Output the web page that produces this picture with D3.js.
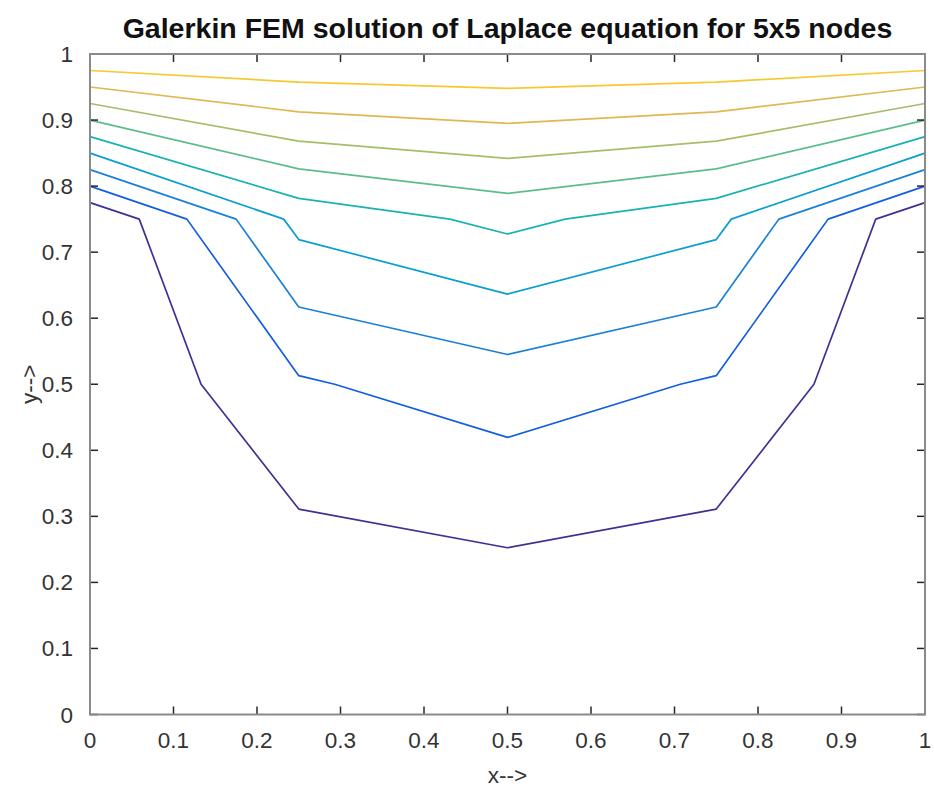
<!DOCTYPE html>
<html>

<head>
    <meta charset="utf-8">
    <style>
        body {
            margin: 0;
            background: white;
        }

        svg {
            display: block;
            font-family: "Liberation Sans", Arial, sans-serif;
        }

        .tick-label {
            font-size: 22.5px;
            fill: #333;
        }
    </style>
</head>

<body>
    <svg width="934" height="792"></svg>
</body>

<script src="https://d3js.org/d3.v7.min.js"></script>

<script>
    // contour levels and the points of each contour line
    let levels = [0.1, 0.2, 0.3, 0.4, 0.5, 0.6, 0.7, 0.8, 0.9]

    let level01 = [[0, 0.775], [0.059, 0.75], [0.133, 0.5], [0.25, 0.311], [0.5, 0.2525], [0.75, 0.311], [0.867, 0.5], [0.941, 0.75], [1, 0.775]]
    let level02 = [[0, 0.8], [0.116, 0.75], [0.25, 0.513], [0.293, 0.5], [0.5, 0.4195], [0.707, 0.5], [0.75, 0.513], [0.884, 0.75], [1, 0.8]]
    let level03 = [[0, 0.825], [0.175, 0.75], [0.25, 0.617], [0.5, 0.545], [0.75, 0.617], [0.825, 0.75], [1, 0.825]]
    let level04 = [[0, 0.85], [0.232, 0.75], [0.25, 0.719], [0.5, 0.6365], [0.75, 0.719], [0.768, 0.75], [1, 0.85]]
    let level05 = [[0, 0.875], [0.25, 0.7815], [0.431, 0.75], [0.5, 0.7275], [0.569, 0.75], [0.75, 0.7815], [1, 0.875]]
    let level06 = [[0, 0.9], [0.25, 0.826], [0.5, 0.789], [0.75, 0.826], [1, 0.9]]
    let level07 = [[0, 0.925], [0.25, 0.868], [0.5, 0.842], [0.75, 0.868], [1, 0.925]]
    let level08 = [[0, 0.95], [0.25, 0.9125], [0.5, 0.895], [0.75, 0.9125], [1, 0.95]]
    let level09 = [[0, 0.975], [0.25, 0.9575], [0.5, 0.948], [0.75, 0.9575], [1, 0.975]]

    let xTicks = [0, 0.1, 0.2, 0.3, 0.4, 0.5, 0.6, 0.7, 0.8, 0.9, 1]
    let yTicks = [0, 0.1, 0.2, 0.3, 0.4, 0.5, 0.6, 0.7, 0.8, 0.9, 1]

    // parula colours picked for each level
    let lineColors = ["#3b3391", "#135fe0", "#1a80d8", "#0b9ed0", "#19b2b2", "#5cbd8b", "#a6be6a", "#e0b853", "#f8c92e"]

    let contours = [level01, level02, level03, level04, level05, level06, level07, level08, level09]

    let svg = d3.select("svg")

    let plotLeft = 90, plotRight = 925, plotTop = 54, plotBottom = 714.5

    let x = d3.scaleLinear().domain([0, 1]).range([plotLeft, plotRight])
    let y = d3.scaleLinear().domain([0, 1]).range([plotBottom, plotTop])

    let line = d3.line()
        .x(d => x(d[0]))
        .y(d => y(d[1]))

    // contour lines
    svg.append("g")
        .selectAll("path")
        .data(contours)
        .join("path")
        .attr("d", line)
        .attr("fill", "none")
        .attr("stroke", (d, i) => lineColors[i])
        .attr("stroke-width", 1.7)
        .attr("stroke-linejoin", "round")

    // ticks pointing inwards on all four sides
    let tickLen = 8
    let ticks = svg.append("g")
        .attr("stroke", "#262626")
        .attr("stroke-width", 1.5)

    ticks.selectAll(".xb").data(xTicks).join("line")
        .attr("class", "xb")
        .attr("x1", d => x(d)).attr("x2", d => x(d))
        .attr("y1", plotBottom).attr("y2", plotBottom - tickLen)
    ticks.selectAll(".xt").data(xTicks).join("line")
        .attr("class", "xt")
        .attr("x1", d => x(d)).attr("x2", d => x(d))
        .attr("y1", plotTop).attr("y2", plotTop + tickLen)
    ticks.selectAll(".yl").data(yTicks).join("line")
        .attr("class", "yl")
        .attr("y1", d => y(d)).attr("y2", d => y(d))
        .attr("x1", plotLeft).attr("x2", plotLeft + tickLen)
    ticks.selectAll(".yr").data(yTicks).join("line")
        .attr("class", "yr")
        .attr("y1", d => y(d)).attr("y2", d => y(d))
        .attr("x1", plotRight).attr("x2", plotRight - tickLen)

    svg.append("rect")
        .attr("x", plotLeft)
        .attr("y", plotTop)
        .attr("width", plotRight - plotLeft)
        .attr("height", plotBottom - plotTop)
        .attr("fill", "none")
        .attr("stroke", "#8a8a8a")
        .attr("stroke-width", 2)

    // tick labels
    svg.append("g")
        .selectAll("text")
        .data(xTicks)
        .join("text")
        .attr("class", "tick-label")
        .attr("x", d => x(d))
        .attr("y", plotBottom + 33)
        .attr("text-anchor", "middle")
        .text(d => d3.format("~g")(d))

    svg.append("g")
        .selectAll("text")
        .data(yTicks)
        .join("text")
        .attr("class", "tick-label")
        .attr("x", plotLeft - 17)
        .attr("y", d => y(d) + 8)
        .attr("text-anchor", "end")
        .text(d => d3.format("~g")(d))

    // title and axis labels
    svg.append("text")
        .attr("x", (plotLeft + plotRight) / 2)
        .attr("y", 38)
        .attr("text-anchor", "middle")
        .style("font-size", "28.5px")
        .style("font-weight", "bold")
        .style("fill", "#111")
        .text("Galerkin FEM solution of Laplace equation for 5x5 nodes")

    svg.append("text")
        .attr("x", (plotLeft + plotRight) / 2)
        .attr("y", 783)
        .attr("text-anchor", "middle")
        .style("font-size", "22.5px")
        .style("fill", "#333")
        .text("x-->")

    svg.append("text")
        .attr("transform", `translate(37, ${(plotTop + plotBottom) / 2}) rotate(-90)`)
        .attr("text-anchor", "middle")
        .style("font-size", "22.5px")
        .style("fill", "#333")
        .text("y-->")
</script>

</html>
